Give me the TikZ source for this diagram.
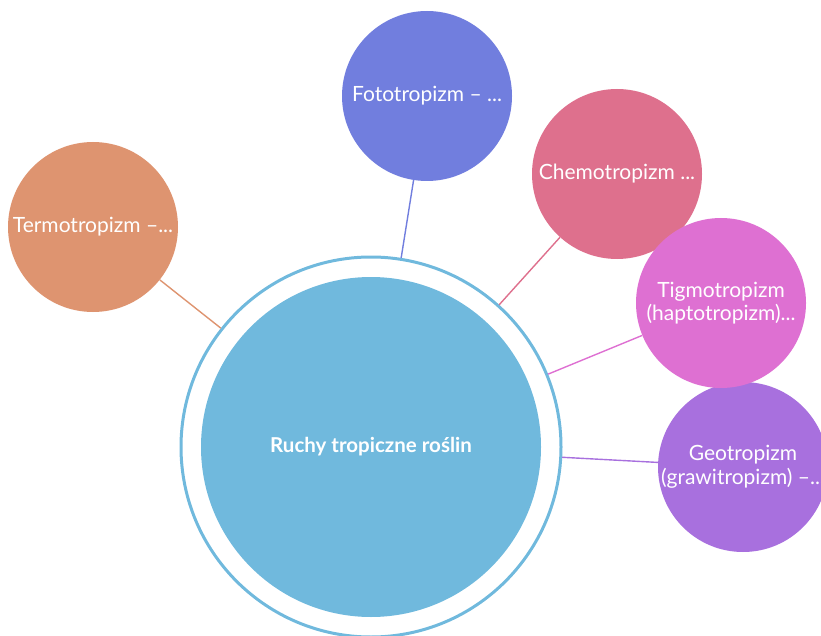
\documentclass[tikz,border=0pt]{standalone}
\usepackage{fontspec}
\setmainfont{Lato}
\usetikzlibrary{positioning}

\begin{document}
\begin{tikzpicture}[x=1pt, y=-1pt]

\definecolor{hubblue}{RGB}{112, 185, 221}
\definecolor{fotoblue}{RGB}{113, 126, 222}
\definecolor{chemored}{RGB}{222, 112, 141}
\definecolor{termoorange}{RGB}{222, 148, 112}
\definecolor{tigmopink}{RGB}{222, 112, 210}
\definecolor{geoviolet}{RGB}{168, 112, 222}

% Fix the page size
\useasboundingbox (0, 0) rectangle (821, 636);

\tikzset{
    hub/.style={
        circle, fill=hubblue, minimum size=340pt, inner sep=0pt,
        text=white, font=\bfseries\fontsize{20.5}{24}\selectfont
    },
    ring/.style={
        circle, draw=hubblue, line width=3pt, minimum size=380pt, inner sep=0pt
    },
    tropism/.style={
        circle, fill=#1, minimum size=170pt, inner sep=0pt,
        text=white, align=center, font=\fontsize{21}{23.5}\selectfont
    },
    link/.style={
        draw=#1, line width=1.4pt
    }
}

% --- CENTRE ---
\node[ring] (ring) at (371, 447) {};
\node[hub] (hub) at (371, 447) {Ruchy tropiczne roślin};

% --- BRANCHES ---
\node[tropism=fotoblue] (foto) at (427, 96) {Fototropizm – ...};
\node[tropism=chemored] (chemo) at (617, 174) {Chemotropizm ...};
\node[tropism=termoorange] (termo) at (93, 227) {Termotropizm –...};
\node[tropism=geoviolet] (geo) at (743, 467) {Geotropizm\\(grawitropizm) –...};
\node[tropism=tigmopink] (tigmo) at (721, 303) {Tigmotropizm\\(haptotropizm)...};

% Connectors
\draw[link=fotoblue] (ring) -- (foto);
\draw[link=chemored] (ring) -- (chemo);
\draw[link=termoorange] (ring) -- (termo);
\draw[link=tigmopink] (ring) -- (tigmo);
\draw[link=geoviolet] (ring) -- (geo);

\end{tikzpicture}
\end{document}
